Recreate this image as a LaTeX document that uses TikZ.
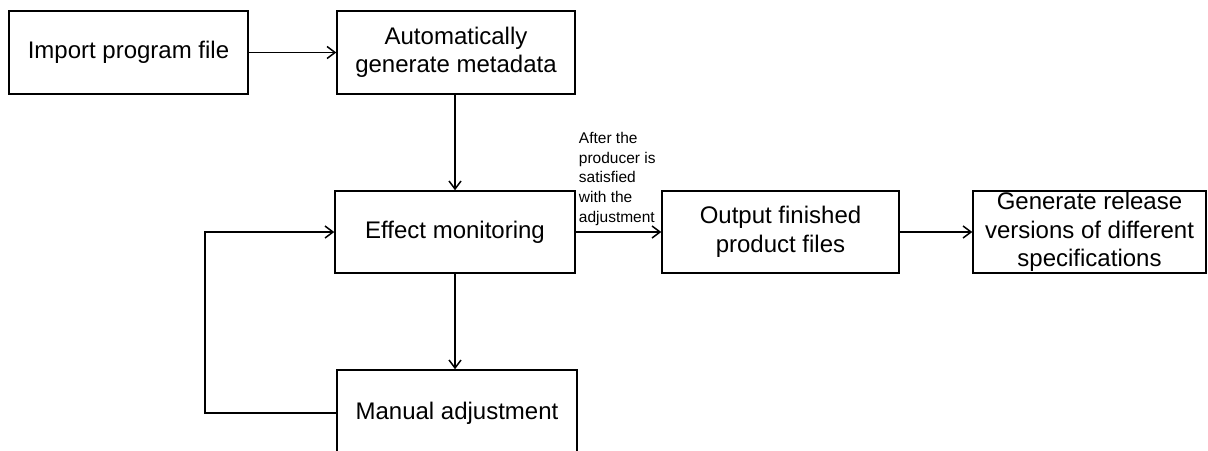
\documentclass[tikz,border=0pt]{standalone}
\usepackage{fontspec}
\setmainfont{Liberation Sans}
\usetikzlibrary{arrows.meta,calc}
\begin{document}
\begin{tikzpicture}[x=1pt,y=-1pt,
  box/.style={draw=black,line width=1.5pt,rectangle,inner sep=0pt,align=center,
    font=\fontsize{24}{28.5}\selectfont},
  flow/.style={line width=1.5pt,-{Straight Barb[length=8pt,width=12pt,line width=1.5pt]}},
  lbl/.style={inner sep=0pt,align=left,font=\fontsize{15.5}{19.8}\selectfont}
]
\useasboundingbox (0,0) rectangle (1208,450);
\clip (0,0) rectangle (1208,450);
\node[box,minimum width=239pt,minimum height=83pt] (imp) at (128.5,52.5) {Import program file};
\node[box,minimum width=238pt,minimum height=83pt] (auto) at (456,52.5) {Automatically\\generate metadata};
\node[box,minimum width=240pt,minimum height=82pt] (eff) at (455,232) {Effect monitoring};
\node[box,minimum width=237pt,minimum height=82pt] (out) at (780.5,232) {Output finished\\product files};
\node[box,minimum width=233pt,minimum height=82pt] (gen) at (1089.5,232) {Generate release\\versions of different\\specifications};
\node[box,minimum width=240pt,minimum height=86pt] (man) at (457,413) {Manual adjustment};
\coordinate (loopx) at (205,413);
\node[lbl,anchor=south west] (cond) at ($(eff.east)+(3,-6)$) {After the\\producer is\\satisfied\\with the\\adjustment};
\draw[flow] (imp.east) -- (auto.west);
\draw[flow] (auto.south -| eff.south) -- (eff.south |- auto.south) -- (eff.north);
\draw[flow] (eff.east) -- (out.west);
\draw[flow] (out.east) -- (gen.west);
\draw[flow] (eff.south) -- (eff.south |- man.north);
\draw[flow] (man.west) -- (loopx) -- (loopx |- eff.west) -- (eff.west);
\end{tikzpicture}
\end{document}
